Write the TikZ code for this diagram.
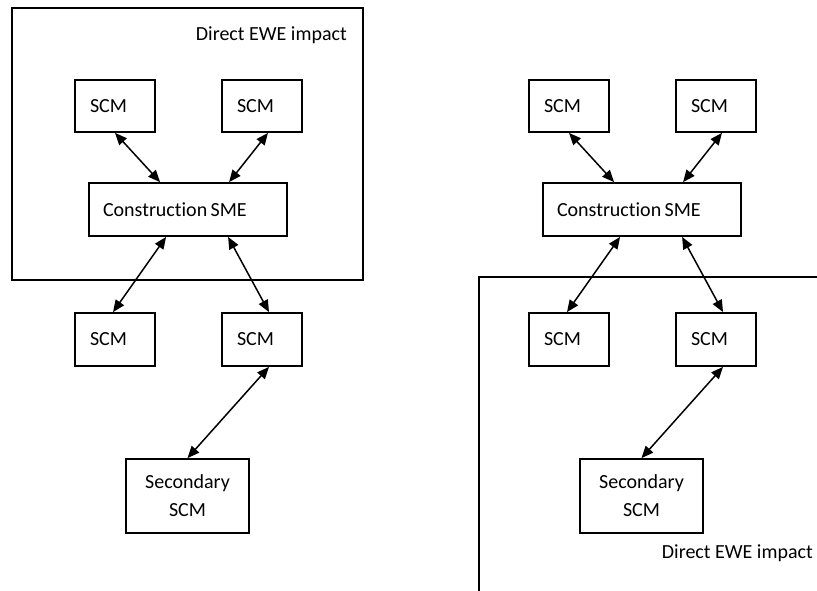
\documentclass[tikz,border=0pt]{standalone}
\usepackage{fontspec}
\setmainfont[Ligatures=NoCommon]{Carlito}
\usetikzlibrary{arrows.meta}
\tikzset{
  box/.style={draw=black, line width=1.8pt, minimum height=52pt, inner ysep=0pt, font=\fontsize{20}{24}\selectfont},
  scmbox/.style={box, minimum width=80pt, text width=50pt, inner xsep=15pt, align=left},
  smebox/.style={box, minimum width=198pt, text width=170pt, inner xsep=14pt, align=left},
  secbox/.style={box, minimum width=123pt, minimum height=74pt, align=center, font=\fontsize{20}{28}\selectfont},
  zone/.style={draw=black, line width=1.8pt},
  zonelabel/.style={anchor=east, inner sep=0pt, font=\fontsize{20}{24}\selectfont},
  link/.style={line width=1.5pt, {Triangle[length=12pt,width=10pt]}-{Triangle[length=12pt,width=10pt]}}
}
\begin{document}
\begin{tikzpicture}[x=1pt,y=-1pt]
\useasboundingbox (0,0) rectangle (817,590);
% ---------- left diagram ----------
\node[zone, minimum width=351pt, minimum height=272pt] (zoneL) at (187.5,144) {};
\node[zonelabel] (lblL) at (347,35) {Direct EWE impact};
\node[scmbox] (tlL) at (115,106) {SCM};
\node[scmbox] (trL) at (262,106) {SCM};
\node[smebox, minimum height=53pt] (csL) at (188,209.5) {Construction\,SME};
\node[scmbox, minimum height=53pt] (blL) at (115,339.5) {SCM};
\node[scmbox, minimum height=53pt] (brL) at (262,339.5) {SCM};
\node[secbox] (secL) at (187.5,496) {Secondary\\SCM};
\draw[link] (tlL.south) -- ([xshift=72pt]csL.north west);
\draw[link] ([xshift=6pt]trL.south) -- ([xshift=141pt]csL.north west);
\draw[link] ([xshift=78pt]csL.south west) -- ([xshift=-2pt]blL.north);
\draw[link] ([xshift=140pt]csL.south west) -- ([xshift=7pt]brL.north);
\draw[link] ([xshift=7pt]brL.south) -- (secL.north);
% ---------- right diagram ----------
\coordinate (zRb) at (479,592);
\coordinate (zRc) at (479,277);
\coordinate (zRr) at (820,277);
\draw[zone] (zRb) -- (zRc) -- (zRr);
\node[zonelabel] (lblR) at (813,553) {Direct EWE impact};
\node[scmbox] (tlR) at (569,106) {SCM};
\node[scmbox] (trR) at (716,106) {SCM};
\node[smebox, minimum height=53pt] (csR) at (642,209.5) {Construction\,SME};
\node[scmbox, minimum height=53pt] (blR) at (569,339.5) {SCM};
\node[scmbox, minimum height=53pt] (brR) at (716,339.5) {SCM};
\node[secbox] (secR) at (641.5,496) {Secondary\\SCM};
\draw[link] (tlR.south) -- ([xshift=72pt]csR.north west);
\draw[link] ([xshift=6pt]trR.south) -- ([xshift=141pt]csR.north west);
\draw[link] ([xshift=78pt]csR.south west) -- ([xshift=-2pt]blR.north);
\draw[link] ([xshift=140pt]csR.south west) -- ([xshift=7pt]brR.north);
\draw[link] ([xshift=7pt]brR.south) -- (secR.north);
\end{tikzpicture}
\end{document}
